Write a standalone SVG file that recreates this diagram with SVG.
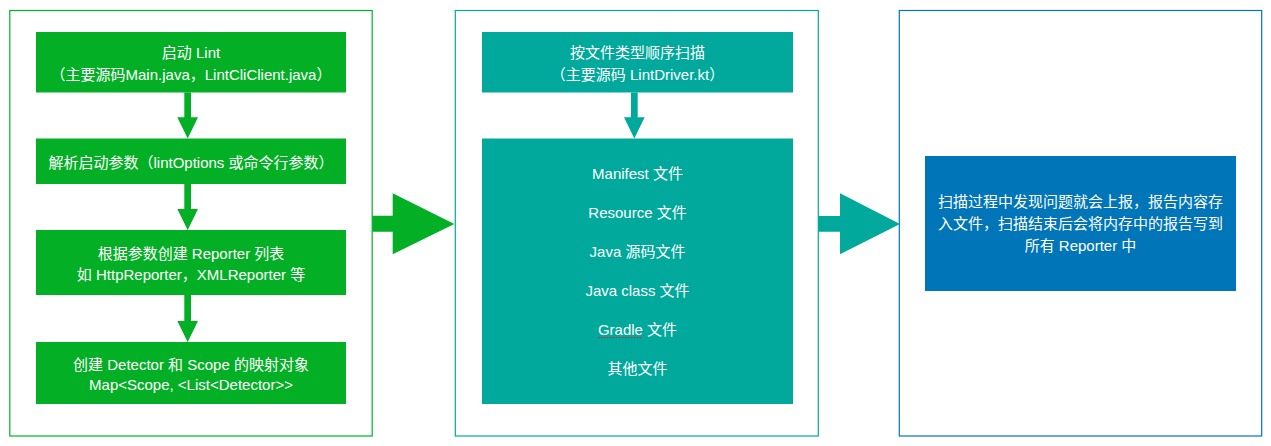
<svg xmlns="http://www.w3.org/2000/svg" width="1271" height="446" viewBox="0 0 1271 446">
<style>
.t{font-family:"Liberation Sans","Noto Sans CJK SC",sans-serif;font-size:15px;fill:#ffffff;text-anchor:middle;}
.g{fill:#03AF25;}
.c{fill:#00A99B;}
.b{fill:#0075B8;}
</style>
<rect width="1271" height="446" fill="#ffffff"/>
<g id="containers" fill="none" stroke-width="1.2">
<rect id="stage1" x="9.8" y="10.5" width="362.4" height="425.5" stroke="#03AF25"/>
<rect id="stage2" x="455.3" y="10.5" width="363" height="425.5" stroke="#00A99B"/>
<rect id="stage3" x="899.3" y="10.5" width="362.4" height="425.5" stroke="#0075B8"/>
</g>
<g id="n1"><rect class="g" x="36" y="32" width="310" height="60.5"/>
<text class="t" x="191" y="58">启动 Lint</text>
<text class="t" x="191" y="80">（主要源码Main.java，LintCliClient.java）</text></g>
<g id="n2"><rect class="g" x="36" y="138.5" width="310" height="45.5"/>
<text class="t" x="191" y="167.5">解析启动参数（lintOptions 或命令行参数）</text></g>
<g id="n3"><rect class="g" x="36" y="230" width="310" height="65"/>
<text class="t" x="191" y="258.5">根据参数创建 Reporter 列表</text>
<text class="t" x="191" y="279.5">如 HttpReporter，XMLReporter 等</text></g>
<g id="n4"><rect class="g" x="36" y="342" width="310" height="62"/>
<text class="t" x="191" y="370">创建 Detector 和 Scope 的映射对象</text>
<text class="t" x="191" y="389.5">Map&lt;Scope, &lt;List&lt;Detector&gt;&gt;</text></g>
<g id="m1"><rect class="c" x="482" y="32" width="311" height="60.5"/>
<text class="t" x="637.5" y="58">按文件类型顺序扫描</text>
<text class="t" x="637.5" y="79.5">（主要源码 LintDriver.kt）</text></g>
<g id="m2"><rect class="c" x="482" y="138.5" width="311" height="265.5"/>
<text class="t" x="637.5" y="179">Manifest 文件</text>
<text class="t" x="637.5" y="218">Resource 文件</text>
<text class="t" x="637.5" y="257">Java 源码文件</text>
<text class="t" x="637.5" y="296">Java class 文件</text>
<text class="t" x="637.5" y="335">Gradle 文件</text>
<text class="t" x="637.5" y="374">其他文件</text>
<line x1="598" y1="337.5" x2="642" y2="337.5" stroke="#E0202A" stroke-width="1.2" stroke-dasharray="1.5,1.5"/></g>
<g id="r1"><rect class="b" x="925" y="156" width="311" height="135"/>
<text class="t" x="1080.5" y="206.5">扫描过程中发现问题就会上报，报告内容存</text>
<text class="t" x="1080.5" y="228.5">入文件，扫描结束后会将内存中的报告写到</text>
<text class="t" x="1080.5" y="250.5">所有 Reporter 中</text></g>
<g id="connectors">
<polygon class="g" points="184.3,92.5 191,92.5 191,117.3 198,117.3 187.7,138.5 177.3,117.3 184.3,117.3"/>
<polygon class="g" points="184.3,184 191,184 191,209 198,209 187.7,230 177.3,209 184.3,209"/>
<polygon class="g" points="184.3,295 191,295 191,321 198,321 187.7,342 177.3,321 184.3,321"/>
<polygon class="c" points="631,92.5 637.7,92.5 637.7,117.3 644.7,117.3 634.3,138.5 624,117.3 631,117.3"/>
<polygon class="g" points="372.3,215.7 392.7,215.7 392.7,193.3 454.3,224 392.7,254.3 392.7,231.7 372.3,231.7"/>
<polygon class="c" points="818.3,216 840,216 840,193.3 900,224 840,254.3 840,231.7 818.3,231.7"/>
</g>
</svg>
